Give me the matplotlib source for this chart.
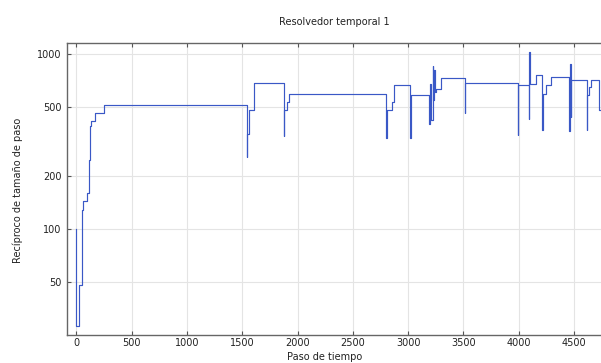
import matplotlib
matplotlib.use("Agg")
import matplotlib.pyplot as plt
from matplotlib.ticker import FixedLocator, FixedFormatter, NullLocator

# Step data (time step index, reciprocal of step size) - steps-post
steps = [0, 1, 27, 54, 58, 94, 112, 116, 120, 124, 128, 133, 172, 248,
         1540, 1543, 1560, 1609, 1878, 1882, 1902, 1920,
         2800, 2806, 2851, 2875, 3020, 3025,
         3191, 3200, 3204, 3222, 3227, 3236, 3243, 3252, 3294,
         3510, 3514, 3993, 3996, 4088, 4094, 4100, 4156, 4213, 4218, 4243, 4288,
         4457, 4462, 4470, 4476, 4614, 4618, 4637, 4650, 4722, 4745]
recip = [100, 28, 48, 128, 144, 160, 200, 250, 300, 350, 390, 415, 460, 511,
         257, 349, 478, 686, 341, 478, 534, 596,
         334, 478, 534, 665, 330, 588,
         398, 680, 420, 854, 546, 810, 609, 637, 733,
         460, 686, 344, 671, 429, 1031, 680, 759, 371, 596, 671, 742,
         365, 885, 439, 716, 368, 583, 650, 711, 478, 478]

xticks = [0, 500, 1000, 1500, 2000, 2500, 3000, 3500, 4000, 4500]
yticks = [50, 100, 200, 500, 1000]
ytick_labels = ["50", "100", "200", "500", "1000"]

title = "Resolvedor temporal 1"
xlabel = "Paso de tiempo"
ylabel = "Recíproco de tamaño de paso"

W, H = 601, 363
fig = plt.figure(figsize=(W / 100, H / 100), dpi=100)
fig.patch.set_facecolor("white")

ax = fig.add_axes([67 / W, 1 - 335 / H, (601 - 67) / W, (335 - 43) / H])
ax.plot(steps, recip, drawstyle="steps-post", color="#3a58c6", lw=0.85)
ax.set_yscale("log")
ax.set_xlim(-84, 4743)
ax.set_ylim(24.8, 1160)

ax.xaxis.set_major_locator(FixedLocator(xticks))
ax.yaxis.set_major_locator(FixedLocator(yticks))
ax.yaxis.set_major_formatter(FixedFormatter(ytick_labels))
ax.yaxis.set_minor_locator(NullLocator())

ax.tick_params(direction="in", length=3, width=0.8, colors="#555555",
               labelcolor="#222222", labelsize=7, top=True, pad=4)
ax.tick_params(axis="x", pad=2.5)
ax.grid(True, color="#e4e4e4", lw=0.8)
ax.set_axisbelow(True)
for s in ["left", "bottom", "top"]:
    ax.spines[s].set_color("#666666")
    ax.spines[s].set_linewidth(1.0)
ax.spines["right"].set_visible(False)

fig.text(334 / W, 1 - 22 / H, title, ha="center", va="center", fontsize=7, color="#222222")
fig.text(325 / W, 1 - 357 / H, xlabel, ha="center", va="center", fontsize=7, color="#222222")
fig.text(18 / W, 1 - 190 / H, ylabel, ha="center", va="center", rotation=90, fontsize=7, color="#222222")

fig.savefig("out.png", dpi=100)
